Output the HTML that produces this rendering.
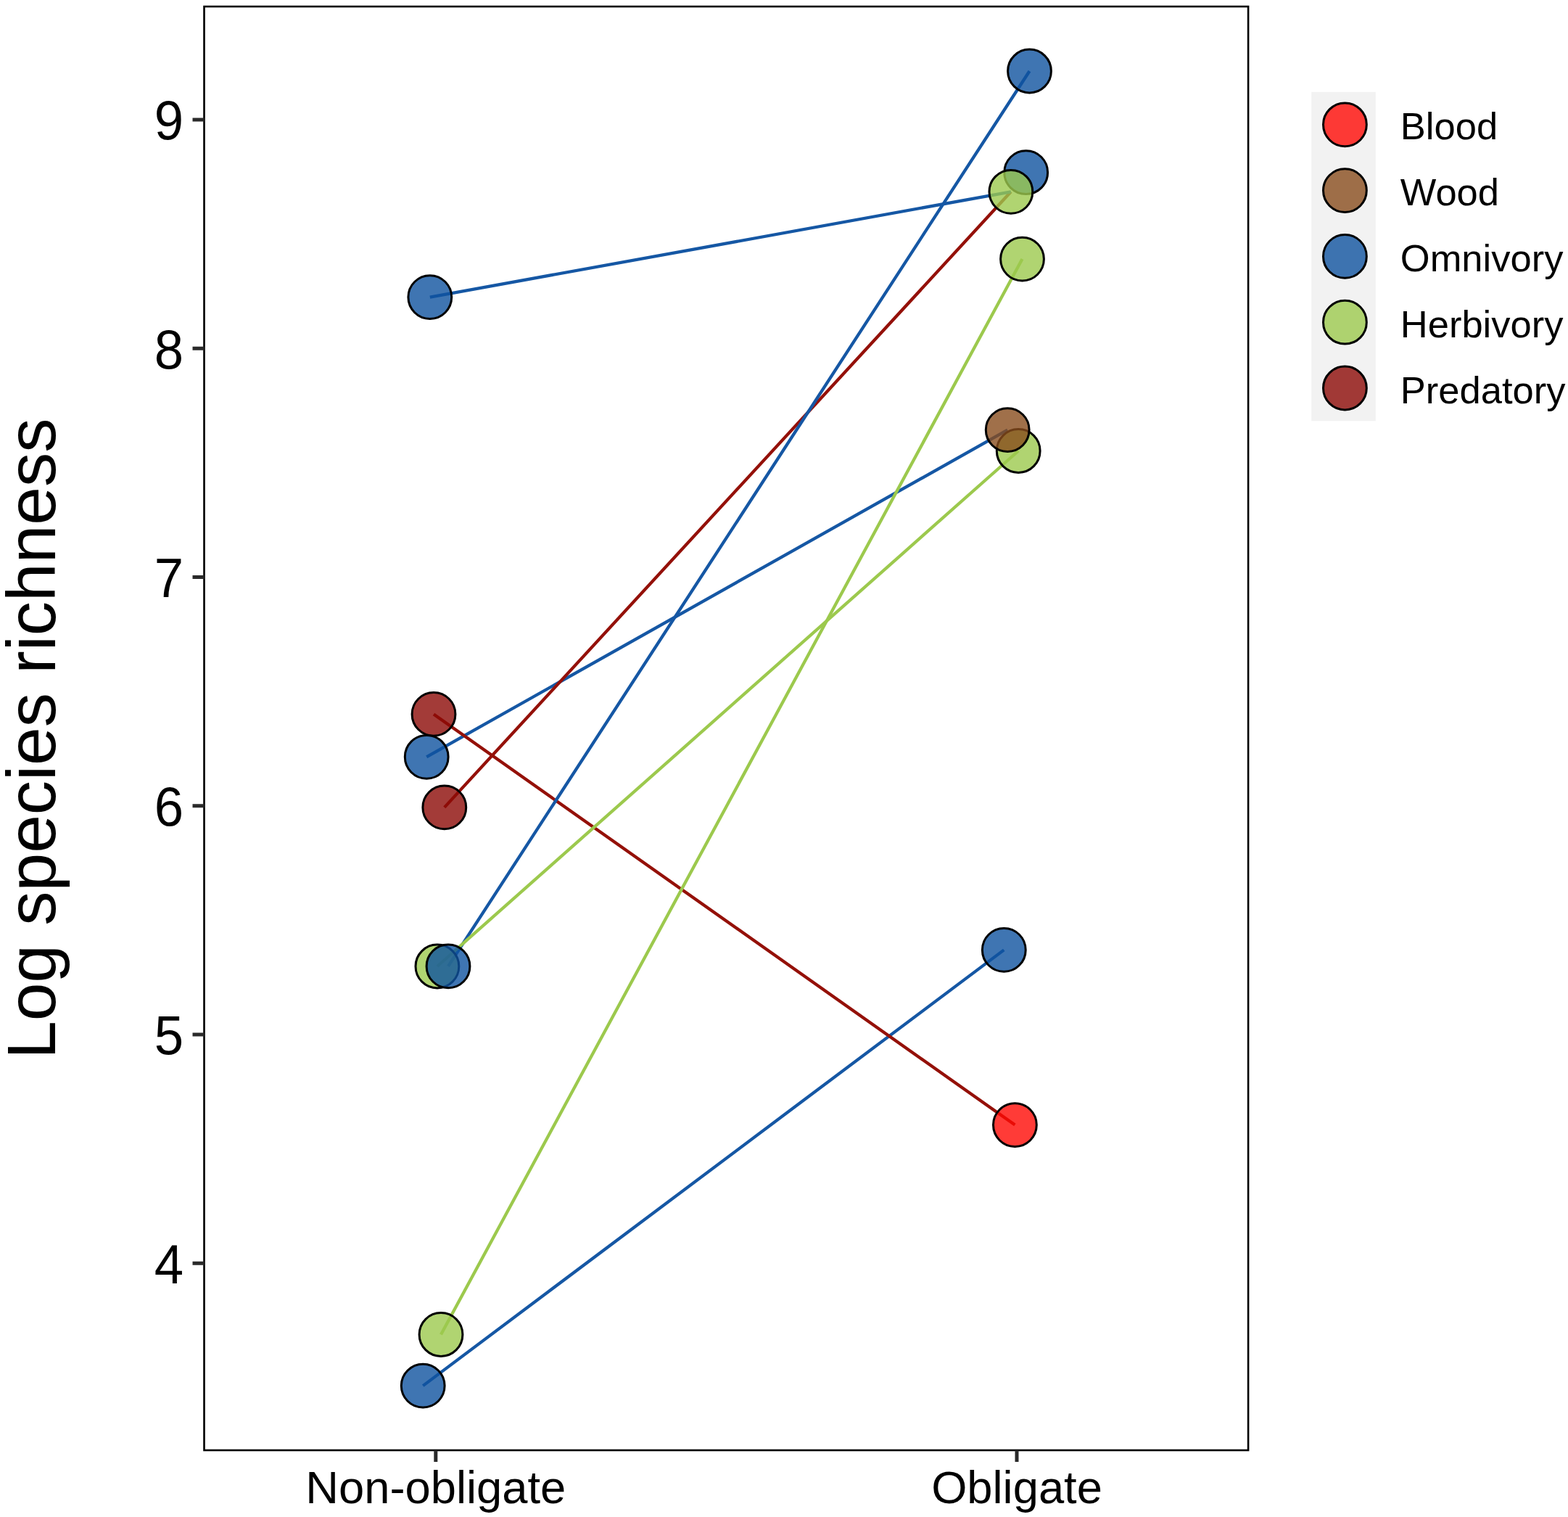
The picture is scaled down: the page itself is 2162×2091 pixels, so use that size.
<!DOCTYPE html>
<html><head><meta charset="utf-8"><title>Log species richness</title>
<style>html,body{margin:0;padding:0;background:#fff;}svg{display:block;}text{font-family:"Liberation Sans",Arial,Helvetica,sans-serif;fill:#000;}</style></head><body>
<svg width="2162" height="2091" viewBox="0 0 2162 2091">
<rect x="0" y="0" width="2162" height="2091" fill="#fff"/>
<g stroke-width="4.3" stroke-linecap="butt" fill="none">
<line x1="583.2" y1="1910.1" x2="1384.3" y2="1309.4" stroke="#1557a4"/>
<line x1="588.2" y1="1043.3" x2="1389.2" y2="592.6" stroke="#1557a4"/>
<line x1="612.8" y1="1112.9" x2="1393.9" y2="264.3" stroke="#941008"/>
<line x1="598" y1="984.4" x2="1399.4" y2="1550.6" stroke="#941008"/>
<line x1="618" y1="1331.9" x2="1419.5" y2="98" stroke="#1557a4"/>
<line x1="602.9" y1="1332" x2="1404.2" y2="621.5" stroke="#9cc94d"/>
<line x1="608" y1="1839.5" x2="1409.5" y2="357.1" stroke="#9cc94d"/>
<line x1="592.8" y1="409.6" x2="1393.9" y2="264.3" stroke="#1557a4"/>
</g>
<g stroke="#000" stroke-width="3">
<circle cx="592.8" cy="409.6" r="29.9" fill="#0f539f" fill-opacity="0.8"/>
<circle cx="598" cy="984.4" r="29.9" fill="#8c0a06" fill-opacity="0.8"/>
<circle cx="588.2" cy="1043.3" r="29.9" fill="#0f539f" fill-opacity="0.8"/>
<circle cx="612.8" cy="1112.9" r="29.9" fill="#8c0a06" fill-opacity="0.8"/>
<circle cx="602.9" cy="1332" r="29.9" fill="#9cc94d" fill-opacity="0.8"/>
<circle cx="618" cy="1331.9" r="29.9" fill="#0f539f" fill-opacity="0.8"/>
<circle cx="608" cy="1839.5" r="29.9" fill="#9cc94d" fill-opacity="0.8"/>
<circle cx="583.2" cy="1910.1" r="29.9" fill="#0f539f" fill-opacity="0.8"/>
<circle cx="1419.5" cy="98" r="29.9" fill="#0f539f" fill-opacity="0.8"/>
<circle cx="1414.7" cy="237.7" r="29.9" fill="#0f539f" fill-opacity="0.8"/>
<circle cx="1393.9" cy="264.3" r="29.9" fill="#9cc94d" fill-opacity="0.8"/>
<circle cx="1409.5" cy="357.1" r="29.9" fill="#9cc94d" fill-opacity="0.8"/>
<circle cx="1404.2" cy="621.5" r="29.9" fill="#9cc94d" fill-opacity="0.8"/>
<circle cx="1389.2" cy="592.6" r="29.9" fill="#884c1d" fill-opacity="0.8"/>
<circle cx="1384.3" cy="1309.4" r="29.9" fill="#0f539f" fill-opacity="0.8"/>
<circle cx="1399.4" cy="1550.6" r="29.9" fill="#ff0a05" fill-opacity="0.8"/>
</g>
<rect x="281.5" y="9" width="1439.6" height="1990" fill="none" stroke="#000" stroke-width="2.6"/>
<g stroke="#2a2a2a" stroke-width="5">
<line x1="265.5" y1="165" x2="281.5" y2="165"/>
<line x1="265.5" y1="480.25" x2="281.5" y2="480.25"/>
<line x1="265.5" y1="795.5" x2="281.5" y2="795.5"/>
<line x1="265.5" y1="1110.75" x2="281.5" y2="1110.75"/>
<line x1="265.5" y1="1426" x2="281.5" y2="1426"/>
<line x1="265.5" y1="1741.25" x2="281.5" y2="1741.25"/>
<line x1="600.8" y1="1999" x2="600.8" y2="2015"/>
<line x1="1402" y1="1999" x2="1402" y2="2015"/>
</g>
<text transform="translate(253,192.25) scale(1,1.0407)" text-anchor="end" font-size="72.5">9</text>
<text transform="translate(253,507.5) scale(1,1.0407)" text-anchor="end" font-size="72.5">8</text>
<text transform="translate(253,822.75) scale(1,1.0407)" text-anchor="end" font-size="72.5">7</text>
<text transform="translate(253,1138) scale(1,1.0407)" text-anchor="end" font-size="72.5">6</text>
<text transform="translate(253,1453.25) scale(1,1.0407)" text-anchor="end" font-size="72.5">5</text>
<text transform="translate(253,1768.5) scale(1,1.0407)" text-anchor="end" font-size="72.5">4</text>
<text transform="translate(600.8,2072.2) scale(1,1.0)" text-anchor="middle" font-size="63.3">Non-obligate</text>
<text transform="translate(1402,2072.2) scale(1,1.0)" text-anchor="middle" font-size="63.3">Obligate</text>
<text transform="translate(75.7,1018.2) rotate(-90) scale(1,1.0)" x="0" y="0" text-anchor="middle" font-size="94.6">Log species richness</text>
<rect x="1808.2" y="126.8" width="88.6" height="453.5" fill="#f2f2f2"/>
<circle cx="1854.4" cy="171.8" r="29.9" fill="#ff0a05" fill-opacity="0.8" stroke="#000" stroke-width="3"/>
<text transform="translate(1930.8,192.3) scale(1,1.0)" font-size="52.5">Blood</text>
<circle cx="1854.4" cy="262.6" r="29.9" fill="#884c1d" fill-opacity="0.8" stroke="#000" stroke-width="3"/>
<text transform="translate(1930.8,283.1) scale(1,1.0)" font-size="52.5">Wood</text>
<circle cx="1854.4" cy="353.4" r="29.9" fill="#0f539f" fill-opacity="0.8" stroke="#000" stroke-width="3"/>
<text transform="translate(1930.8,373.9) scale(1,1.0)" font-size="52.5">Omnivory</text>
<circle cx="1854.4" cy="444.2" r="29.9" fill="#9cc94d" fill-opacity="0.8" stroke="#000" stroke-width="3"/>
<text transform="translate(1930.8,464.7) scale(1,1.0)" font-size="52.5">Herbivory</text>
<circle cx="1854.4" cy="535" r="29.9" fill="#8c0a06" fill-opacity="0.8" stroke="#000" stroke-width="3"/>
<text transform="translate(1930.8,555.5) scale(1,1.0)" font-size="52.5">Predatory</text>
</svg>
</body></html>
